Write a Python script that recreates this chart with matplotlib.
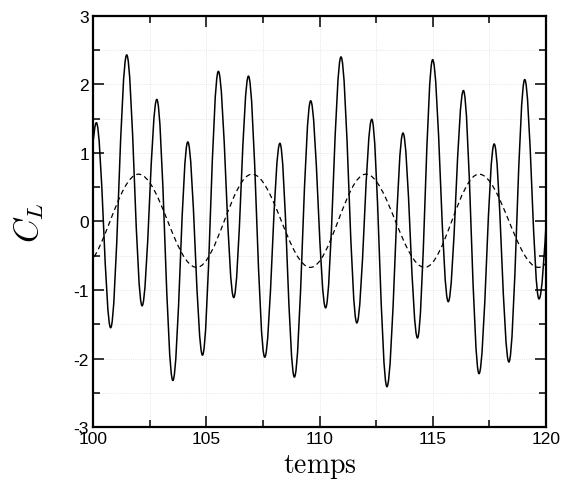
import matplotlib
matplotlib.use("Agg")
import matplotlib.pyplot as plt
from matplotlib.path import Path
from matplotlib.patches import PathPatch
from matplotlib.ticker import MultipleLocator

# extrema of the lift coefficient (time, value)
cl_t = [99.45, 100.14, 100.77, 101.48, 102.16, 102.81, 103.52, 104.18, 104.83,
        105.53, 106.21, 106.86, 107.58, 108.25, 108.89, 109.61, 110.27, 110.95,
        111.65, 112.31, 112.98, 113.69, 114.33, 115.00, 115.69, 116.36, 117.05,
        117.72, 118.37, 119.07, 119.70, 120.40]
cl_y = [-1.30, 1.44, -1.55, 2.43, -1.23, 1.78, -2.32, 1.16, -1.95,
        2.19, -1.11, 2.12, -1.98, 1.14, -2.27, 1.76, -1.26, 2.40,
        -1.48, 1.49, -2.41, 1.29, -1.70, 2.36, -1.17, 1.91, -2.22,
        1.13, -2.05, 2.07, -1.13, 1.50]

# extrema of the dashed curve
cd_t = [99.50, 102.00, 104.57, 107.02, 109.60, 112.05, 114.65, 117.05, 119.68, 122.1]
cd_y = [-0.67, 0.69, -0.67, 0.69, -0.67, 0.69, -0.67, 0.69, -0.67, 0.69]

xticks = [100, 105, 110, 115, 120]
yticks = [-3, -2, -1, 0, 1, 2, 3]


def smooth_path(t, y, k=0.36):
    # cubic bezier pieces with flat tangents at each extremum
    verts = [(t[0], y[0])]
    codes = [Path.MOVETO]
    for i in range(len(t) - 1):
        dt = t[i + 1] - t[i]
        verts += [(t[i] + k * dt, y[i]), (t[i + 1] - k * dt, y[i + 1]), (t[i + 1], y[i + 1])]
        codes += [Path.CURVE4] * 3
    return Path(verts, codes)


plt.rcParams['mathtext.fontset'] = 'cm'
plt.rcParams['font.family'] = ['Liberation Sans', 'DejaVu Sans']
plt.rcParams['axes.unicode_minus'] = False

fig = plt.figure(figsize=(5.65, 4.81), dpi=100)
ax = fig.add_axes([0.165, 0.11, 0.801, 0.855])

ax.add_patch(PathPatch(smooth_path(cl_t, cl_y), fill=False, edgecolor='black', lw=1.1))
ax.add_patch(PathPatch(smooth_path(cd_t, cd_y), fill=False, edgecolor='black', lw=0.9,
                       linestyle=(0, (4, 2.8))))

ax.set_xlim(100, 120)
ax.set_ylim(-3, 3)
ax.set_xticks(xticks)
ax.set_xticklabels([str(v) for v in xticks])
ax.set_yticks(yticks)
ax.set_yticklabels([str(v) for v in yticks])
ax.xaxis.set_minor_locator(MultipleLocator(2.5))
ax.yaxis.set_minor_locator(MultipleLocator(0.5))

ax.grid(True, which='both', linestyle=':', linewidth=0.6, color='#dddddd')
ax.set_axisbelow(True)

ax.tick_params(which='both', direction='in', top=True, right=True, labelsize=12.5, width=1.1)
ax.tick_params(which='major', length=8, pad=3)
ax.tick_params(which='minor', length=4.8)
for s in ax.spines.values():
    s.set_linewidth(1.6)

ax.set_xlabel(r'$\mathrm{temps}$', fontsize=20, labelpad=4)
ax.set_ylabel(r'$C_L$', fontsize=24, labelpad=20)

fig.savefig('out.png', dpi=100)
